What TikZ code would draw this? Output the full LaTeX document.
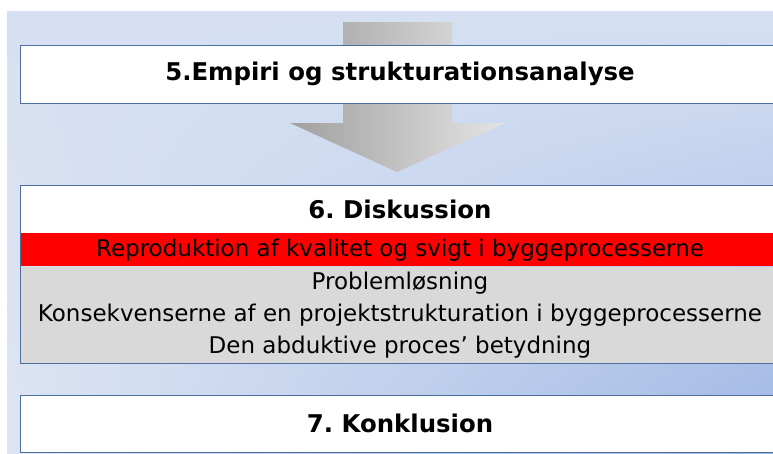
\documentclass[tikz,border=0pt]{standalone}
\usepackage{fontspec}
\setmainfont{DejaVu Sans}
\usetikzlibrary{positioning,fit,shadings}
\definecolor{bgTop}{RGB}{214,224,242}
\definecolor{bgLight}{RGB}{221,229,243}
\definecolor{bgDark}{RGB}{158,183,228}
\definecolor{frameBlue}{RGB}{79,110,160}
\definecolor{bandRed}{RGB}{255,0,0}
\definecolor{bandGray}{RGB}{217,217,217}
\definecolor{arrDark}{RGB}{160,160,160}
\definecolor{arrLight}{RGB}{228,228,228}

\begin{document}
\begin{tikzpicture}[x=1pt,y=-1pt,
  hd/.style={draw=frameBlue,fill=white,minimum width=760pt,inner sep=0pt,font=\fontsize{24.4}{28}\selectfont\bfseries\frenchspacing},
  redband/.style={fill=bandRed,minimum width=760pt,minimum height=33pt,inner sep=0pt,font=\fontsize{23}{26}\selectfont},
  grayband/.style={fill=bandGray,minimum width=760pt,minimum height=96pt,inner sep=0pt,align=center,font=\fontsize{23}{32}\selectfont}]
\useasboundingbox (0,0) rectangle (773,453);
\clip (0,0) rectangle (773,453);
\shade[upper left=bgTop,upper right=bgTop,lower left=bgLight,lower right=bgDark] (7,11) rectangle (773,453);
% big arrow between the two first steps
\shade[left color=arrDark,right color=arrLight] (343,22) -- (452,22) -- (452,123) -- (505,123)
  -- (397,172) -- (290,123) -- (343,123) -- cycle;
\node[hd,minimum height=58pt] (empiri) at (400,74) {5.Empiri og strukturationsanalyse};
\node[hd,draw=none,minimum height=48pt] (disk) at (400,209) {6. Diskussion};
\node[redband,below=0pt of disk] (repro) {Reproduktion af kvalitet og svigt i byggeprocesserne};
\node[grayband,below=0pt of repro] (punkter) {Problemløsning\\Konsekvenserne af en projektstrukturation i byggeprocesserne\\Den abduktive proces’ betydning};
\node[draw=frameBlue,fit=(disk)(punkter),inner sep=0pt] (diskboks) {};
\node[hd,minimum height=57pt] (konkl) at (400,423.5) {7. Konklusion};
\end{tikzpicture}
\end{document}
